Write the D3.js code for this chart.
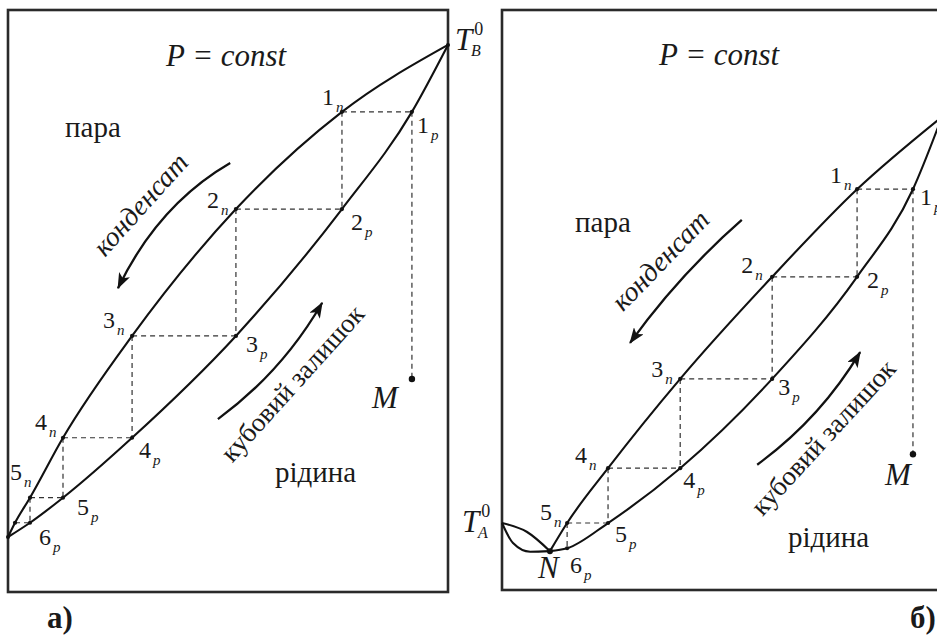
<!DOCTYPE html>
<html>
<head>
<meta charset="utf-8">
<script src="https://cdn.jsdelivr.net/npm/d3@7"></script>
<style>
  html, body { margin: 0; padding: 0; background: #fff; }
  svg { display: block; }
</style>
</head>
<body>
<svg id="chart" width="937" height="635"></svg>
<script>
// ---- Panel а): zeotropic mixture, T–x diagram at constant pressure ----
// composition x in % of component B, temperature T in relative units
const aBoilA = 9.45;                                   // T_A^0 (x = 0)
const aBoilB = 94.0;                                   // T_B^0 (x = 100)
const aStageT   = [82.5, 65.8, 44.0, 26.5, 16.2, 11.9]; // stage temperatures 1..6
const aVaporX   = [75.9, 51.8, 28.2, 12.5, 5.0, 1.6];   // vapour compositions 1п..6п
const aLiquidX  = [91.8, 75.9, 51.8, 28.2, 12.5, 5.0];  // liquid compositions 1р..6р
const aMix      = [91.8, 36.6];                         // point M (x, T)

// ---- Panel б): mixture with a minimum-boiling azeotrope N ----
const bBoilA = 11.55;
const bBoilB = 81.6;
const bAzeo  = [10.9, 6.7];                             // point N (x, T)
const bStageT  = [69.1, 54.0, 36.4, 21.0, 11.55, 7.2];
const bVaporX  = [80.7, 61.4, 40.5, 24.1, 14.8];
const bLiquidX = [93.4, 80.7, 61.4, 40.5, 24.1, 14.8];
const bMix     = [93.4, 23.4];
const bLensVapor  = [[0, 11.55], [5.7, 10.0], [10.9, 6.7]];
const bLensLiquid = [[0, 11.55], [2.5, 8.1], [6.4, 6.6], [10.9, 6.7]];

const stageNames = ["1", "2", "3", "4", "5", "6"];
const subVapor = "п", subLiquid = "р";

const FONT = "'Liberation Serif', 'DejaVu Serif', 'Times New Roman', Times, serif";

const svg = d3.select("#chart")
  .attr("font-family", FONT)
  .style("font-family", FONT);

// arrow head used by the "конденсат" / "кубовий залишок" arrows
svg.append("defs").append("marker")
  .attr("id", "head").attr("viewBox", "0 0 16 12")
  .attr("refX", 15).attr("refY", 6)
  .attr("markerWidth", 16).attr("markerHeight", 12)
  .attr("markerUnits", "userSpaceOnUse").attr("orient", "auto")
  .append("path").attr("d", "M0,0 L16,6 L0,12 L4,6 Z").attr("fill", "#111");

// every text gets the serif family and dark fill
const txt = (parent) => parent.append("text").attr("font-family", FONT).attr("fill", "#1a1a1a");

function panel(cfg) {
  const x = d3.scaleLinear().domain([0, 100]).range([cfg.left, cfg.right]);
  const y = d3.scaleLinear().domain([0, 100]).range([cfg.bottom, cfg.top]);
  const g = svg.append("g");

  g.append("rect")
    .attr("x", cfg.left).attr("y", cfg.top)
    .attr("width", cfg.right - cfg.left).attr("height", cfg.bottom - cfg.top)
    .attr("fill", "none").attr("stroke", "#2a2a2a").attr("stroke-width", 2.6);

  const line = d3.line().x(d => x(d[0])).y(d => y(d[1])).curve(d3.curveMonotoneX);
  const curveStyle = sel => sel.attr("fill", "none").attr("stroke", "#111")
    .attr("stroke-width", 2.1).attr("stroke-linejoin", "round");

  // dashed construction: horizontal tie lines and vertical condensation steps
  const dash = sel => sel.attr("stroke", "#333").attr("stroke-width", 1.2)
    .attr("stroke-dasharray", "5,4").attr("fill", "none");
  cfg.vaporX.forEach((vx, i) => {
    g.append("line").call(dash)
      .attr("x1", x(vx)).attr("x2", x(cfg.liquidX[i]))
      .attr("y1", y(cfg.stageT[i])).attr("y2", y(cfg.stageT[i]));
    if (i + 1 < cfg.stageT.length) {
      g.append("line").call(dash)
        .attr("x1", x(vx)).attr("x2", x(vx))
        .attr("y1", y(cfg.stageT[i])).attr("y2", y(cfg.stageT[i + 1]));
    }
  });
  g.append("line").call(dash)
    .attr("x1", x(cfg.liquidX[0])).attr("x2", x(cfg.mix[0]))
    .attr("y1", y(cfg.stageT[0])).attr("y2", y(cfg.mix[1]));

  // vapour (dew) and liquid (boiling) curves
  g.append("path").call(curveStyle).attr("d", line(cfg.vaporCurve));
  g.append("path").call(curveStyle).attr("d", line(cfg.liquidCurve));
  (cfg.extraCurves || []).forEach(c => g.append("path").call(curveStyle).attr("d", line(c)));

  // stage points
  const pts = [];
  cfg.vaporX.forEach((vx, i) => pts.push([vx, cfg.stageT[i]]));
  cfg.liquidX.forEach((lx, i) => pts.push([lx, cfg.stageT[i]]));
  g.selectAll(null).data(pts).join("circle")
    .attr("cx", d => x(d[0])).attr("cy", d => y(d[1])).attr("r", 2.1).attr("fill", "#111");
  g.append("circle").attr("cx", x(cfg.mix[0])).attr("cy", y(cfg.mix[1])).attr("r", 3.2).attr("fill", "#111");

  // stage labels: digit + italic subscript
  function stageLabel(px, py, name, sub, off) {
    const t = txt(g).attr("x", px + off[0]).attr("y", py + off[1]).attr("font-size", 24);
    t.append("tspan").text(name);
    t.append("tspan").attr("font-style", "italic").attr("font-size", 15)
      .attr("dx", 2).attr("dy", 7).text(sub);
  }
  cfg.vaporLabels.forEach((off, i) => {
    if (off) stageLabel(x(cfg.vaporX[i]), y(cfg.stageT[i]), stageNames[i], subVapor, off);
  });
  cfg.liquidLabels.forEach((off, i) => {
    stageLabel(x(cfg.liquidX[i]), y(cfg.stageT[i]), stageNames[i], subLiquid, off);
  });

  // region labels
  txt(g).attr("x", cfg.titlePos[0]).attr("y", cfg.titlePos[1])
    .attr("font-size", 31).attr("font-style", "italic")
    .attr("style", "white-space:pre").text("P = const");
  txt(g).attr("x", cfg.vaporPos[0]).attr("y", cfg.vaporPos[1])
    .attr("font-size", 29).text("пара");
  txt(g).attr("x", cfg.liquidPos[0]).attr("y", cfg.liquidPos[1])
    .attr("font-size", 29).text("рідина");
  txt(g).attr("x", x(cfg.mix[0]) + cfg.mixOff[0]).attr("y", y(cfg.mix[1]) + cfg.mixOff[1])
    .attr("font-size", 31).attr("font-style", "italic").text("M");

  // flow arrows with their captions
  const arrow = (a) => {
    const p = d3.path();
    p.moveTo(x(a[0][0]), y(a[0][1]));
    p.quadraticCurveTo(x(a[1][0]), y(a[1][1]), x(a[2][0]), y(a[2][1]));
    g.append("path").attr("d", p.toString()).attr("fill", "none")
      .attr("stroke", "#111").attr("stroke-width", 2.3).attr("marker-end", "url(#head)");
  };
  arrow(cfg.condArrow);
  arrow(cfg.residArrow);
  txt(g).attr("transform", `translate(${cfg.condText[0]},${cfg.condText[1]}) rotate(${cfg.condText[2]})`)
    .attr("text-anchor", "middle").attr("dy", "0.35em")
    .attr("font-size", 28).attr("font-style", "italic").text("конденсат");
  txt(g).attr("transform", `translate(${cfg.residText[0]},${cfg.residText[1]}) rotate(${cfg.residText[2]})`)
    .attr("text-anchor", "middle").attr("dy", "0.35em")
    .attr("font-size", 27).text("кубовий залишок");

  txt(g).attr("x", cfg.tagPos[0]).attr("y", cfg.tagPos[1])
    .attr("font-size", 31).attr("font-weight", "bold").text(cfg.tag);

  return { g, x, y };
}

// temperature label T with superscript 0 and italic subscript
function tempLabel(px, py, sub) {
  const t = txt(svg).attr("x", px).attr("y", py).attr("font-size", 31).attr("font-style", "italic");
  t.append("tspan").text("T");
  t.append("tspan").attr("font-style", "normal").attr("font-size", 18).attr("dx", 2).attr("dy", -15).text("0");
  txt(svg).attr("x", px + 16).attr("y", py + 6).attr("font-size", 16).attr("font-style", "italic").text(sub);
}

// panel а)
const A = panel({
  left: 8, right: 448, top: 10, bottom: 592,
  stageT: aStageT, vaporX: aVaporX, liquidX: aLiquidX, mix: aMix,
  vaporCurve: [[0, aBoilA], ...aVaporX.map((v, i) => [v, aStageT[i]]).reverse(), [100, aBoilB]],
  liquidCurve: [[0, aBoilA], ...aLiquidX.map((v, i) => [v, aStageT[i]]).reverse(), [100, aBoilB]],
  vaporLabels: [[-20, -7], [-29, -1], [-29, -8], [-28, -8], [-20, -18], null],
  liquidLabels: [[5, 21], [9, 21], [10, 16], [7, 20], [14, 17], [9, 22]],
  titlePos: [166, 66], vaporPos: [65, 137], liquidPos: [275, 482], mixOff: [-40, 29],
  condArrow: [[50.5, 73.7], [34.1, 66.5], [25.0, 52.2]],
  residArrow: [[47.7, 29.7], [62.3, 37.8], [71.4, 49.7]],
  condText: [140, 204, -48], residText: [292, 383, -48],
  tag: "а)", tagPos: [47, 628]
});
A.g.append("circle").attr("cx", A.x(0)).attr("cy", A.y(aBoilA)).attr("r", 2).attr("fill", "#111");
A.g.append("circle").attr("cx", A.x(100)).attr("cy", A.y(aBoilB)).attr("r", 2).attr("fill", "#111");
tempLabel(455, 50, "B");

// panel б)
const B = panel({
  left: 502, right: 942, top: 10, bottom: 590,
  stageT: bStageT, vaporX: bVaporX, liquidX: bLiquidX, mix: bMix,
  vaporCurve: [bAzeo, ...bVaporX.map((v, i) => [v, bStageT[i]]).reverse(), [100, bBoilB]],
  liquidCurve: [bAzeo, ...bLiquidX.map((v, i) => [v, bStageT[i]]).reverse(), [100, bBoilB]],
  extraCurves: [bLensVapor, bLensLiquid],
  vaporLabels: [[-27, -6], [-31, -4], [-29, -2], [-33, -5], [-27, -3]],
  liquidLabels: [[7, 16], [10, 11], [6, 16], [3, 20], [7, 19], [3, 25]],
  titlePos: [659, 65], vaporPos: [575, 232], liquidPos: [788, 547], mixOff: [-28, 31],
  condArrow: [[54.5, 63.8], [40.2, 54.3], [29.1, 42.6]],
  residArrow: [[58.0, 21.6], [72.3, 29.5], [81.4, 41.0]],
  condText: [660, 260, -46], residText: [823, 437, -47.5],
  tag: "б)", tagPos: [910, 628]
});
B.g.append("circle").attr("cx", B.x(bAzeo[0])).attr("cy", B.y(bAzeo[1])).attr("r", 3).attr("fill", "#111");
txt(B.g).attr("x", B.x(bAzeo[0]) - 12).attr("y", B.y(bAzeo[1]) + 27)
  .attr("font-size", 31).attr("font-style", "italic").text("N");
tempLabel(462, 532, "A");
</script>
</body>
</html>
